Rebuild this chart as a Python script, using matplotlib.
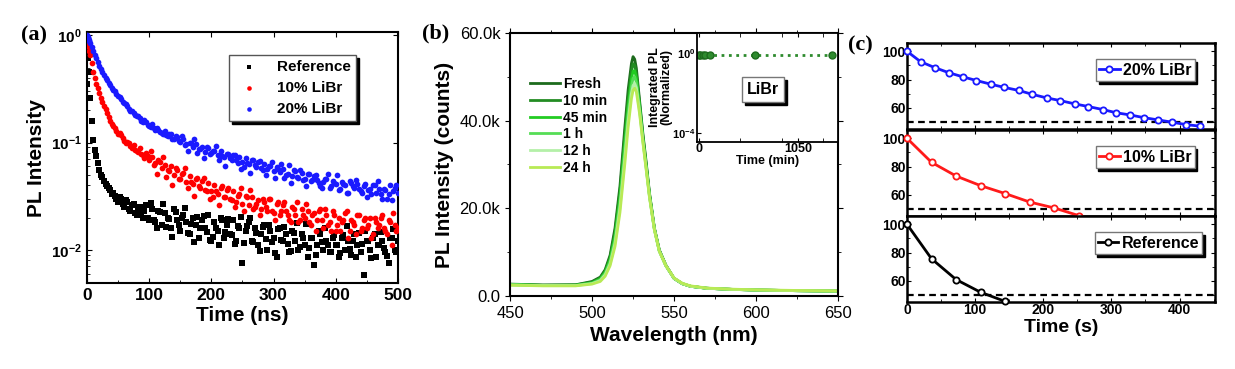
import numpy as np
import matplotlib.pyplot as plt
from matplotlib.lines import Line2D
from matplotlib.ticker import MultipleLocator, LogLocator, NullFormatter

plt.rcParams['font.family'] = ['Liberation Sans', 'DejaVu Sans']
plt.rcParams['font.weight'] = 'bold'
plt.rcParams['axes.labelweight'] = 'bold'
plt.rcParams['mathtext.fontset'] = 'custom'
plt.rcParams['mathtext.rm'] = 'Liberation Sans:bold'
plt.rcParams['mathtext.it'] = 'Liberation Sans:bold'
plt.rcParams['mathtext.bf'] = 'Liberation Sans:bold'

# ---- (a) TRPL decays ----
# samples on the 5 ns grid (plus the first few ns) ...
t_ns = np.concatenate([[0, 1, 2, 3, 4], np.arange(5, 501, 5)])
pl_20 = [1.00, 0.97, 0.95, 0.91, 0.88,
         0.85, 0.71, 0.61, 0.52, 0.45, 0.40, 0.36, 0.325, 0.30, 0.27,
         0.255, 0.232, 0.22, 0.198, 0.19, 0.176, 0.17, 0.157, 0.155, 0.143,
         0.15, 0.132, 0.13, 0.124, 0.128, 0.114, 0.119, 0.109, 0.113, 0.101,
         0.108, 0.097, 0.099, 0.091, 0.097, 0.087, 0.091, 0.082, 0.089, 0.080,
         0.084, 0.076, 0.083, 0.073, 0.078, 0.072, 0.076, 0.068, 0.074, 0.066,
         0.071, 0.063, 0.069, 0.062, 0.066, 0.058, 0.063, 0.057, 0.061, 0.054,
         0.059, 0.053, 0.057, 0.050, 0.062, 0.049, 0.054, 0.047, 0.052, 0.046,
         0.051, 0.044, 0.049, 0.045, 0.039, 0.043, 0.046, 0.038, 0.044, 0.041,
         0.036, 0.043, 0.040, 0.034, 0.042, 0.038, 0.041, 0.035, 0.039, 0.031,
         0.037, 0.040, 0.034, 0.037, 0.030, 0.036, 0.033, 0.029, 0.038, 0.034]
pl_10 = [0.85, 0.92, 0.86, 0.78, 0.72,
         0.65, 0.45, 0.35, 0.29, 0.24, 0.205, 0.172, 0.15, 0.137, 0.12,
         0.118, 0.104, 0.101, 0.092, 0.095, 0.084, 0.088, 0.076, 0.080, 0.069,
         0.074, 0.064, 0.068, 0.058, 0.062, 0.055, 0.060, 0.050, 0.055, 0.046,
         0.052, 0.043, 0.049, 0.041, 0.046, 0.039, 0.044, 0.036, 0.042, 0.035,
         0.040, 0.033, 0.038, 0.031, 0.036, 0.030, 0.035, 0.028, 0.033, 0.027,
         0.032, 0.026, 0.031, 0.025, 0.029, 0.024, 0.028, 0.023, 0.030, 0.022,
         0.027, 0.021, 0.026, 0.023, 0.019, 0.025, 0.021, 0.018, 0.024, 0.020,
         0.023, 0.017, 0.022, 0.019, 0.024, 0.016, 0.021, 0.018, 0.023, 0.015,
         0.020, 0.018, 0.022, 0.013, 0.019, 0.017, 0.021, 0.015, 0.019, 0.016,
         0.020, 0.014, 0.018, 0.017, 0.021, 0.015, 0.019, 0.011, 0.017, 0.016]
pl_ref = [0.35, 0.62, 0.90, 0.68, 0.45,
          0.26, 0.105, 0.075, 0.055, 0.048, 0.041, 0.038, 0.033, 0.032, 0.028,
          0.030, 0.025, 0.028, 0.023, 0.027, 0.021, 0.025, 0.020, 0.026, 0.019,
          0.024, 0.018, 0.023, 0.017, 0.022, 0.020, 0.016, 0.024, 0.019, 0.015,
          0.021, 0.018, 0.014, 0.020, 0.017, 0.013, 0.019, 0.016, 0.021, 0.012,
          0.018, 0.015, 0.020, 0.013, 0.017, 0.014, 0.019, 0.012, 0.016, 0.0075,
          0.015, 0.018, 0.012, 0.016, 0.011, 0.014, 0.017, 0.010, 0.015, 0.013,
          0.0085, 0.016, 0.012, 0.014, 0.0095, 0.015, 0.012, 0.010, 0.014, 0.011,
          0.0085, 0.013, 0.0072, 0.011, 0.014, 0.010, 0.012, 0.0095, 0.013, 0.011,
          0.0085, 0.013, 0.010, 0.012, 0.009, 0.014, 0.011, 0.0095, 0.0058, 0.012,
          0.010, 0.013, 0.0085, 0.011, 0.012, 0.0095, 0.0075, 0.013, 0.010, 0.012]

# ... and the points in between (2.5, 7.5, ... 497.5 ns)
t_ns2 = np.arange(2.5, 500, 5)
pl_20b = [0.94, 0.78, 0.66, 0.56, 0.48, 0.43, 0.38, 0.345, 0.31, 0.285,
          0.265, 0.24, 0.228, 0.205, 0.196, 0.18, 0.175, 0.16, 0.162, 0.145,
          0.141, 0.138, 0.136, 0.125, 0.12, 0.118, 0.121, 0.108, 0.115, 0.103,
          0.115, 0.094, 0.083, 0.099, 0.109, 0.080, 0.087, 0.071, 0.091, 0.079,
          0.084, 0.092, 0.068, 0.075, 0.061, 0.079, 0.068, 0.077, 0.064, 0.057,
          0.059, 0.064, 0.052, 0.068, 0.059, 0.067, 0.055, 0.050, 0.060, 0.066,
          0.047, 0.057, 0.063, 0.047, 0.051, 0.042, 0.055, 0.048, 0.055, 0.045,
          0.039, 0.051, 0.045, 0.050, 0.042, 0.038, 0.046, 0.051, 0.039, 0.042,
          0.050, 0.037, 0.041, 0.034, 0.044, 0.039, 0.045, 0.037, 0.034, 0.041,
          0.036, 0.033, 0.040, 0.044, 0.033, 0.037, 0.030, 0.040, 0.035, 0.040]
pl_10b = [0.84, 0.55, 0.40, 0.32, 0.26, 0.22, 0.19, 0.16, 0.142, 0.128,
          0.124, 0.11, 0.098, 0.099, 0.088, 0.086, 0.081, 0.079, 0.072, 0.075,
          0.084, 0.062, 0.051, 0.066, 0.074, 0.048, 0.054, 0.040, 0.058, 0.046,
          0.051, 0.058, 0.038, 0.043, 0.032, 0.047, 0.038, 0.047, 0.035, 0.030,
          0.031, 0.035, 0.026, 0.039, 0.031, 0.038, 0.029, 0.025, 0.032, 0.038,
          0.023, 0.031, 0.036, 0.024, 0.027, 0.021, 0.030, 0.025, 0.030, 0.023,
          0.019, 0.028, 0.023, 0.028, 0.021, 0.018, 0.024, 0.028, 0.019, 0.021,
          0.027, 0.018, 0.021, 0.015, 0.023, 0.019, 0.024, 0.017, 0.015, 0.021,
          0.017, 0.015, 0.019, 0.023, 0.015, 0.018, 0.014, 0.021, 0.016, 0.020,
          0.017, 0.013, 0.020, 0.016, 0.020, 0.016, 0.014, 0.018, 0.022, 0.015]
pl_refb = [0.80, 0.16, 0.085, 0.064, 0.050, 0.044, 0.039, 0.036, 0.034, 0.030,
           0.031, 0.027, 0.029, 0.024, 0.026, 0.022, 0.024, 0.021, 0.023, 0.020,
           0.0275, 0.019, 0.0158, 0.0226, 0.027, 0.0164, 0.0195, 0.0133, 0.0224, 0.0172,
           0.0198, 0.0243, 0.0144, 0.0175, 0.0119, 0.0201, 0.0158, 0.0206, 0.0145, 0.0124,
           0.0131, 0.016, 0.0112, 0.0189, 0.0146, 0.0194, 0.0136, 0.0113, 0.0165, 0.0203,
           0.0115, 0.0165, 0.0198, 0.0119, 0.0142, 0.0098, 0.0163, 0.0126, 0.0169, 0.0118,
           0.0093, 0.0156, 0.0123, 0.0164, 0.0114, 0.0098, 0.0143, 0.0176, 0.0107, 0.013,
           0.0174, 0.0105, 0.0128, 0.0089, 0.015, 0.0117, 0.0158, 0.0111, 0.0095, 0.0138,
           0.011, 0.0093, 0.0136, 0.0166, 0.0101, 0.0122, 0.0085, 0.0143, 0.0113, 0.015,
           0.012, 0.0084, 0.014, 0.0111, 0.0148, 0.0104, 0.0088, 0.0129, 0.0157, 0.0095]

# ---- (b) PL spectra ----
wl = [450, 470, 490, 500, 505, 508, 511, 514, 517, 520, 522, 524, 525, 526, 527,
      529, 531, 533, 535, 538, 541, 545, 550, 555, 560, 570, 585, 600, 625, 650]
spec_labels = ['Fresh', '10 min', '45 min', '1 h', '12 h', '24 h']
spec_colors = ['#1d6b1d', '#238c23', '#22cc22', '#55dd55', '#b4f0a8', '#b8ea55']
spec_fresh = [2700, 2500, 2550, 3300, 4300, 6000, 9300, 15500, 25000, 38500, 47000, 53000, 54600, 54000, 52000,
              44500, 37000, 30500, 23500, 15500, 10500, 7000, 4000, 2800, 2200, 1750, 1500, 1350, 1200, 1100]
spec_10min = [2650, 2450, 2500, 3150, 4100, 5700, 8800, 14600, 23800, 36800, 45200, 51300, 53000, 52600, 50800,
              43800, 36500, 30000, 23300, 15400, 10400, 7000, 4000, 2800, 2200, 1750, 1500, 1350, 1200, 1100]
spec_45min = [2600, 2400, 2450, 3000, 3900, 5400, 8300, 13700, 22500, 35000, 43300, 49500, 51300, 51400, 49800,
              43200, 36000, 29600, 23000, 15300, 10300, 6900, 4000, 2800, 2200, 1750, 1500, 1350, 1200, 1100]
spec_1h = [2550, 2400, 2400, 2900, 3700, 5100, 7800, 12800, 21200, 33200, 41500, 47800, 49700, 50000, 48700,
           42600, 35600, 29300, 22800, 15200, 10200, 6900, 4000, 2800, 2200, 1750, 1500, 1350, 1200, 1100]
spec_12h = [2500, 2350, 2350, 2800, 3500, 4800, 7300, 12000, 20000, 31500, 39800, 46200, 48000, 48500, 47500,
            42000, 35200, 29000, 22600, 15100, 10200, 6900, 4000, 2800, 2200, 1750, 1500, 1350, 1200, 1100]
spec_24h = [2450, 2300, 2300, 2700, 3300, 4500, 6900, 11300, 19000, 30200, 38500, 45000, 46900, 47400, 46600,
            41500, 35000, 28800, 22500, 15100, 10200, 6900, 4100, 2900, 2300, 1800, 1550, 1400, 1250, 1150]
spectra = [spec_fresh, spec_10min, spec_45min, spec_1h, spec_12h, spec_24h]

inset_t = [0, 10, 45, 60, 120, 590, 1410]
inset_pl = [0.82, 0.82, 0.82, 0.82, 0.82, 0.82, 0.82]

# ---- (c) stability ----
t_20 = [0, 20, 41, 61, 82, 102, 123, 143, 164, 184, 205, 225, 246, 266, 287, 307, 328, 348, 369, 389, 410, 430]
v_20 = [100, 92.6, 88.4, 84.9, 81.9, 79.3, 76.7, 74.4, 72.3, 69.5, 67.0, 65.1, 62.8, 60.9, 58.8, 56.5,
        54.9, 53.0, 51.4, 49.8, 48.1, 47.0]
t_10 = [0, 36, 72, 108, 144, 180, 216, 252]
v_10 = [100, 83.0, 73.3, 66.5, 60.9, 54.9, 50.7, 45.3]
t_ref = [0, 36, 72, 108, 144]
v_ref = [100, 75.6, 60.9, 51.9, 45.4]

fig = plt.figure(figsize=(12.35, 3.69), dpi=100)
shadow = {'color': 'black', 'alpha': 1.0}


def style(ax, lw=1.5):
    for sp in ax.spines.values():
        sp.set_linewidth(lw)
    ax.tick_params(which='both', direction='in', top=True, right=True)


# (a)
ax = fig.add_axes([0.0704, 0.233, 0.2518, 0.680])
ax.set_yscale('log')
for tt, yy, mk, col, lab, z in [(t_ns, pl_ref, 's', 'black', 'Reference', 2),
                                (t_ns2, pl_refb, 's', 'black', None, 2),
                                (t_ns, pl_10, 'o', '#ff0000', '10% LiBr', 3),
                                (t_ns2, pl_10b, 'o', '#ff0000', None, 3),
                                (t_ns, pl_20, 'o', '#1a1aff', '20% LiBr', 4),
                                (t_ns2, pl_20b, 'o', '#1a1aff', None, 4)]:
    ax.scatter(tt, yy, marker=mk, s=17, c=col, lw=0, label=lab, zorder=z)
ax.set_xlim(0, 500)
ax.set_ylim(0.0049, 1.07)
ax.set_xticks([0, 100, 200, 300, 400, 500])
ax.xaxis.set_minor_locator(MultipleLocator(50))
ax.set_yticks([1e-2, 1e-1, 1])
ax.set_yticklabels([r'$10^{-2}$', r'$10^{-1}$', r'$10^{0}$'])
ax.yaxis.set_minor_locator(LogLocator(base=10, subs=np.arange(2, 10)))
ax.yaxis.set_minor_formatter(NullFormatter())
style(ax)
ax.tick_params(axis='x', labelsize=12.5)
ax.tick_params(axis='y', labelsize=11)
ax.tick_params(which='minor', top=False, right=False)
ax.set_xlabel('Time (ns)', fontsize=15, labelpad=2)
ax.set_ylabel('PL Intensity', fontsize=15, labelpad=4)
ax.legend(loc='upper right', bbox_to_anchor=(0.89, 0.94), fontsize=11, scatterpoints=1,
          markerscale=0.8, fancybox=False, edgecolor='#555555', shadow=shadow,
          handletextpad=0.8, labelspacing=0.45, borderpad=0.35, framealpha=1)

# (b)
ax = fig.add_axes([0.413, 0.198, 0.2656, 0.7127])
for spec, lab, col in zip(spectra, spec_labels, spec_colors):
    ax.plot(wl, spec, color=col, lw=2, label=lab)
ax.set_xlim(450, 650)
ax.set_ylim(0, 60000)
ax.set_xticks([450, 500, 550, 600, 650])
ax.xaxis.set_minor_locator(MultipleLocator(25))
ax.set_yticks([0, 20000, 40000, 60000])
ax.set_yticklabels(['0.0', '20.0k', '40.0k', '60.0k'])
ax.yaxis.set_minor_locator(MultipleLocator(10000))
for sp in ax.spines.values():
    sp.set_linewidth(1.5)
ax.tick_params(which='both', direction='out', top=True, right=True, labelsize=12)
for lab in ax.get_xticklabels() + ax.get_yticklabels():
    lab.set_fontweight('normal')
ax.set_xlabel('Wavelength (nm)', fontsize=15, labelpad=4)
ax.set_ylabel('PL Intensity (counts)', fontsize=15, labelpad=4)
ax.legend(loc='upper left', bbox_to_anchor=(0.022, 0.88), fontsize=10, frameon=False,
          handlelength=2.2, handletextpad=0.2, labelspacing=0.2)

ins = fig.add_axes([0.5644, 0.6152, 0.1142, 0.2954])
ins.set_yscale('log')
ins.plot(inset_t, inset_pl, ':', color='#2e8b2e', lw=2, marker='o', ms=5,
         markerfacecolor='#2e8b2e', markeredgecolor='#1d6b1d')
ins.set_xlim(-20, 1470)
ins.set_ylim(3.5e-5, 10)
ins.set_xticks([0, 1050])
ins.xaxis.set_minor_locator(MultipleLocator(437.5))
ins.set_yticks([1e-4, 1])
ins.set_yticklabels([r'$10^{-4}$', r'$10^{0}$'])
ins.yaxis.set_minor_formatter(NullFormatter())
style(ins, 1.3)
ins.tick_params(which='both', right=False, length=3)
ins.tick_params(axis='x', labelsize=9, pad=1)
ins.tick_params(axis='y', labelsize=8, pad=1)
ins.set_xlabel('Time (min)', fontsize=9, labelpad=0)
ins.set_ylabel('Integrated PL\n(Normalized)', fontsize=9, labelpad=0, linespacing=0.9)
ins.legend([Line2D([], [], alpha=0)], ['LiBr'], loc='center', bbox_to_anchor=(0.47, 0.48),
           handlelength=0, handletextpad=0, fontsize=11.5, fancybox=False, edgecolor='#777777',
           shadow=shadow, borderpad=0.3)

# (c)
left, width, h = 0.7344, 0.2494, 0.2336
bottoms = [0.6504, 0.4146, 0.1816]
series_c = [(t_20, v_20, '#1a1aff', '20% LiBr'),
            (t_10, v_10, '#ff1a1a', '10% LiBr'),
            (t_ref, v_ref, 'black', 'Reference')]
for i, (b, (tt, vv, col, lab)) in enumerate(zip(bottoms, series_c)):
    ax = fig.add_axes([left, b, width, h])
    ax.axhline(50, color='black', ls='--', lw=1.6, dashes=(3, 2))
    ax.plot(tt, vv, '-o', color=col, lw=2, ms=4.5, markerfacecolor='white',
            markeredgewidth=1.3, label=lab, clip_on=False, zorder=3)
    ax.set_xlim(0, 452)
    ax.set_ylim(45, 106)
    ax.set_yticks([60, 80, 100])
    ax.set_xticks([0, 100, 200, 300, 400])
    ax.xaxis.set_minor_locator(MultipleLocator(50))
    ax.yaxis.set_minor_locator(MultipleLocator(10))
    style(ax, 1.8)
    ax.tick_params(which='major', length=3)
    ax.tick_params(which='minor', length=2)
    ax.tick_params(labelsize=10, pad=1)
    if i < 2:
        ax.tick_params(labelbottom=False)
    else:
        ax.set_xlabel('Time (s)', fontsize=14, labelpad=1)
    ax.legend(loc='upper right', bbox_to_anchor=(0.96 if i < 2 else 0.985, 0.9), fontsize=11.5,
              handlelength=1.3, handletextpad=0.2, fancybox=False, edgecolor='#777777',
              shadow=shadow, borderpad=0.2, framealpha=1)

fig.text(0.017, 0.905, '(a)', family='Liberation Serif', weight='bold', fontsize=16, va='center')
fig.text(0.342, 0.91, '(b)', family='Liberation Serif', weight='bold', fontsize=16, va='center')
fig.text(0.687, 0.878, '(c)', family='Liberation Serif', weight='bold', fontsize=16, va='center')

fig.savefig('out.png', dpi=100)
